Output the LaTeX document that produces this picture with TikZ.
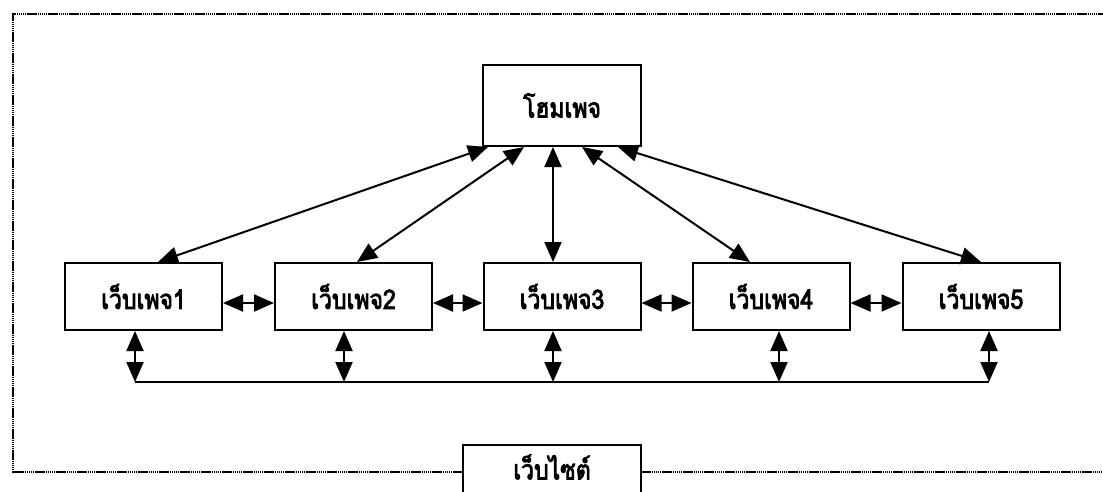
\documentclass[tikz,border=0pt]{standalone}
\usepackage{fontspec}
\newfontfamily\thaifont[Script=Thai,FakeStretch=0.85,FakeBold=3]{Loma}
\usetikzlibrary{arrows.meta,calc}
\begin{document}
\begin{tikzpicture}[x=1pt,y=-1pt,
  box/.style={draw,line width=2pt,minimum width=157pt,minimum height=67pt,inner sep=0pt,font=\thaifont\fontsize{27}{30}\selectfont},
  biarrow/.style={line width=2pt,arrows={Triangle[length=20pt,width=17pt]-Triangle[length=20pt,width=17pt]}},
  frame/.style={line width=1.4pt,dash pattern=on 1.5pt off 0.6pt},
  bus/.style={line width=2pt}]
\useasboundingbox (0,0) rectangle (1103,492);
\clip (0,0) rectangle (1103,492);
\node[box,minimum width=158pt,minimum height=81pt] (home) at (562,105.5) {โฮมเพจ};
\node[box] (w1) at (143.5,296.5) {เว็บเพจ1};
\node[box] (w2) at (353.5,296.5) {เว็บเพจ2};
\node[box] (w3) at (562,296.5) {เว็บเพจ3};
\node[box] (w4) at (771,296.5) {เว็บเพจ4};
\node[box] (w5) at (981,296.5) {เว็บเพจ5};
\node[box,draw=none,minimum width=176pt,minimum height=42pt] (site) at (552,467) {เว็บไซต์};
\draw[line width=2pt] (site.north west) rectangle ([yshift=-30pt]site.south east);
% frame
\coordinate (ftl) at (13,14);
\coordinate (ftr) at (1110,14);
\coordinate (fbl) at (13,472);
\coordinate (fbr) at (1110,472);
\draw[frame] (ftr) -- (ftl) -- (fbl) -- (fbl -| site.west);
\draw[frame] (fbl -| site.east) -- (fbr);
% home to pages
\draw[biarrow] ([xshift=-74pt]home.south) -- ([xshift=14.5pt]w1.north);
\draw[biarrow] ([xshift=-38pt]home.south) -- ([xshift=3.5pt]w2.north);
\draw[biarrow] ([xshift=-9pt]home.south) -- ([xshift=-9pt]w3.north);
\draw[biarrow] ([xshift=20pt]home.south) -- ([xshift=-21pt]w4.north);
\draw[biarrow] ([xshift=56pt]home.south) -- ([xshift=0pt]w5.north);
% between pages
\draw[biarrow] ([yshift=-6.5pt]w1.east) -- ([yshift=-6.5pt]w2.west);
\draw[biarrow] ([yshift=-6.5pt]w2.east) -- ([yshift=-6.5pt]w3.west);
\draw[biarrow] ([yshift=-6.5pt]w3.east) -- ([yshift=-6.5pt]w4.west);
\draw[biarrow] ([yshift=-6.5pt]w4.east) -- ([yshift=-6.5pt]w5.west);
% bus
\coordinate (b1) at (135,382);
\coordinate (b2) at (344,382);
\coordinate (b3) at (553,382);
\coordinate (b4) at (779,382);
\coordinate (b5) at (989,382);
\draw[biarrow] (w1.south -| b1) -- (b1);
\draw[biarrow] (w2.south -| b2) -- (b2);
\draw[biarrow] (w3.south -| b3) -- (b3);
\draw[biarrow] (w4.south -| b4) -- (b4);
\draw[biarrow] (w5.south -| b5) -- (b5);
\draw[bus] (b1) -- (b5);
\end{tikzpicture}
\end{document}
